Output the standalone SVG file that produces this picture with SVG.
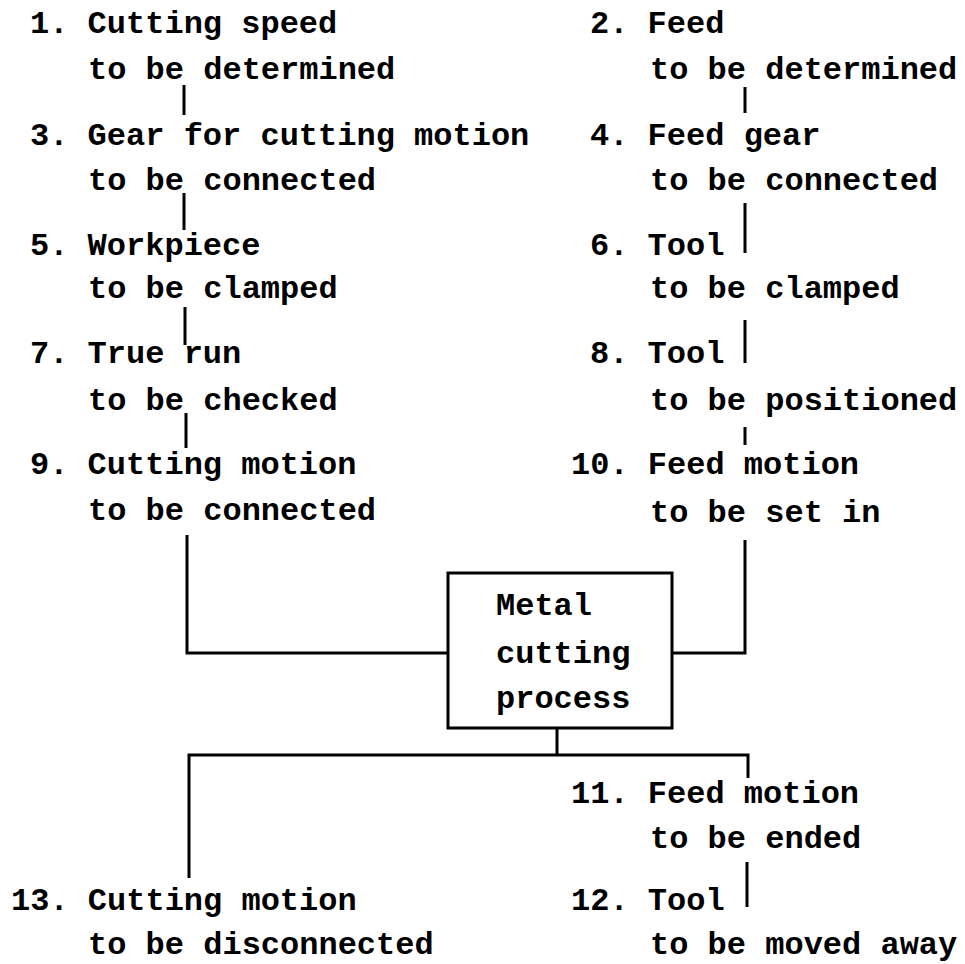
<svg xmlns="http://www.w3.org/2000/svg" width="965" height="964" viewBox="0 0 965 964">
<style>
text{font-family:"Liberation Mono","DejaVu Sans Mono",monospace;font-size:32px;font-weight:bold;fill:#000}
.c{stroke:#000;stroke-width:3;fill:none}
.box{stroke:#000;stroke-width:3;fill:#fff}
</style>
<rect width="965" height="964" fill="#fff"/>
<g id="connectors">
<path class="c" d="M184 85V115M184 193V230M185 307V345M186 413V448"/>
<path class="c" d="M187 535V653H448"/>
<path class="c" d="M745 87V113M745 203V253M745 320V363M745 427V445"/>
<path class="c" d="M745 540V653H672"/>
<path class="c" d="M557 728V755M189 878V755H748V778"/>
<path class="c" d="M747 862V907"/>
</g>
<g id="n1"><text x="30" y="33">1. Cutting speed</text><text x="88" y="79">to be determined</text></g>
<g id="n2"><text x="590" y="33">2. Feed</text><text x="650" y="79">to be determined</text></g>
<g id="n3"><text x="30" y="145">3. Gear for cutting motion</text><text x="88" y="190">to be connected</text></g>
<g id="n4"><text x="590" y="145">4. Feed gear</text><text x="650" y="190">to be connected</text></g>
<g id="n5"><text x="30" y="255">5. Workpiece</text><text x="88" y="298">to be clamped</text></g>
<g id="n6"><text x="590" y="255">6. Tool</text><text x="650" y="298">to be clamped</text></g>
<g id="n7"><text x="30" y="363">7. True run</text><text x="88" y="410">to be checked</text></g>
<g id="n8"><text x="590" y="363">8. Tool</text><text x="650" y="410">to be positioned</text></g>
<g id="n9"><text x="30" y="474">9. Cutting motion</text><text x="88" y="520">to be connected</text></g>
<g id="n10"><text x="571" y="474">10. Feed motion</text><text x="650" y="522">to be set in</text></g>
<g id="process"><rect class="box" x="448" y="573" width="224" height="155"/><text x="496" y="615">Metal</text><text x="496" y="663">cutting</text><text x="496" y="708">process</text></g>
<g id="n11"><text x="571" y="803">11. Feed motion</text><text x="650" y="848">to be ended</text></g>
<g id="n12"><text x="571" y="910">12. Tool</text><text x="650" y="954">to be moved away</text></g>
<g id="n13"><text x="11" y="910">13. Cutting motion</text><text x="88" y="954">to be disconnected</text></g>
</svg>
